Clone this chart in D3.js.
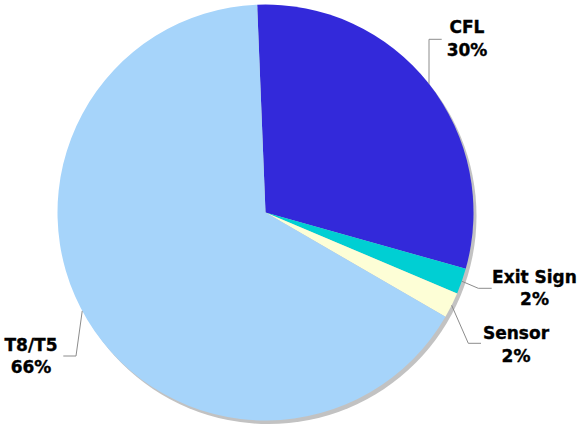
<!DOCTYPE html>
<html>
<head>
<meta charset="utf-8">
<script src="https://cdn.jsdelivr.net/npm/d3@7"></script>
<style>
  html, body { margin: 0; padding: 0; background: #fff; }
  svg { display: block; }
  text { font-family: Verdana, "DejaVu Sans", sans-serif; font-weight: bold; font-size: 17px; fill: #000; stroke: #000; stroke-width: 0.35px; }
</style>
</head>
<body>
<svg id="chart" width="578" height="425"></svg>
<script>
// Lighting inventory share by fixture type
const categories = ["CFL", "Exit Sign", "Sensor", "T8/T5"];
const shares = [30, 2, 2, 66];
const colors = ["#3329DA", "#00CFD3", "#FDFED6", "#A6D4FA"];

const width = 578, height = 425;
const cx = 265.5, cy = 212.5, radius = 208;
const startOffset = -2.3 * Math.PI / 180;

const svg = d3.select("#chart");

const pie = d3.pie()
  .sort(null)
  .value(d => d.value)
  .startAngle(startOffset)
  .endAngle(startOffset + 2 * Math.PI);

const data = categories.map((c, i) => ({ name: c, value: shares[i], color: colors[i] }));
const arcs = pie(data);

const arc = d3.arc().innerRadius(0).outerRadius(radius);

// drop shadow behind the pie
svg.append("circle")
  .attr("cx", cx + 3)
  .attr("cy", cy + 3.5)
  .attr("r", radius)
  .attr("fill", "#c2c2c2");

const g = svg.append("g").attr("transform", `translate(${cx},${cy})`);

g.selectAll("path.slice")
  .data(arcs)
  .join("path")
  .attr("class", "slice")
  .attr("d", arc)
  .attr("fill", d => d.data.color);

// label layout: leader elbow and text anchor for each slice
const labelLayout = {
  "CFL":       { elbow: [429 - cx, 39.3 - cy], end: [441.7 - cx, 39.3 - cy], text: [467, 33.3] },
  "Exit Sign": { elbow: [478.3 - cx, 288.3 - cy], end: [491.7 - cx, 288.3 - cy], text: [534.5, 282.7] },
  "Sensor":    { elbow: [468.3 - cx, 343.3 - cy], end: [481 - cx, 343.3 - cy], text: [516, 339] },
  "T8/T5":     { elbow: [76 - cx, 356 - cy], end: [63.3 - cx, 356 - cy], text: [31, 350.7] }
};

const total = d3.sum(shares);
const pct = v => Math.round(v / total * 100) + "%";

arcs.forEach(d => {
  const L = labelLayout[d.data.name];
  // leader starts at the rim point where the elbow meets the pie
  let start;
  if (d.data.name === "CFL") {
    // vertical leader dropping straight onto the rim
    const x = L.elbow[0];
    start = [x, -Math.sqrt(radius * radius - x * x)];
  } else {
    const mid = (d.startAngle + d.endAngle) / 2;
    const a = d.data.name === "T8/T5" ? mid + 0.05 : mid;
    start = [Math.sin(a) * radius, -Math.cos(a) * radius];
  }
  g.append("polyline")
    .attr("points", [start, L.elbow, L.end].map(p => p.join(",")).join(" "))
    .attr("fill", "none")
    .attr("stroke", "#8c8c8c")
    .attr("stroke-width", 1);

  const t = svg.append("text")
    .attr("text-anchor", "middle")
    .attr("x", L.text[0])
    .attr("y", L.text[1]);
  t.append("tspan").attr("x", L.text[0]).text(d.data.name);
  t.append("tspan").attr("x", L.text[0]).attr("dy", 22.5).text(pct(d.data.value));
});
</script>
</body>
</html>
